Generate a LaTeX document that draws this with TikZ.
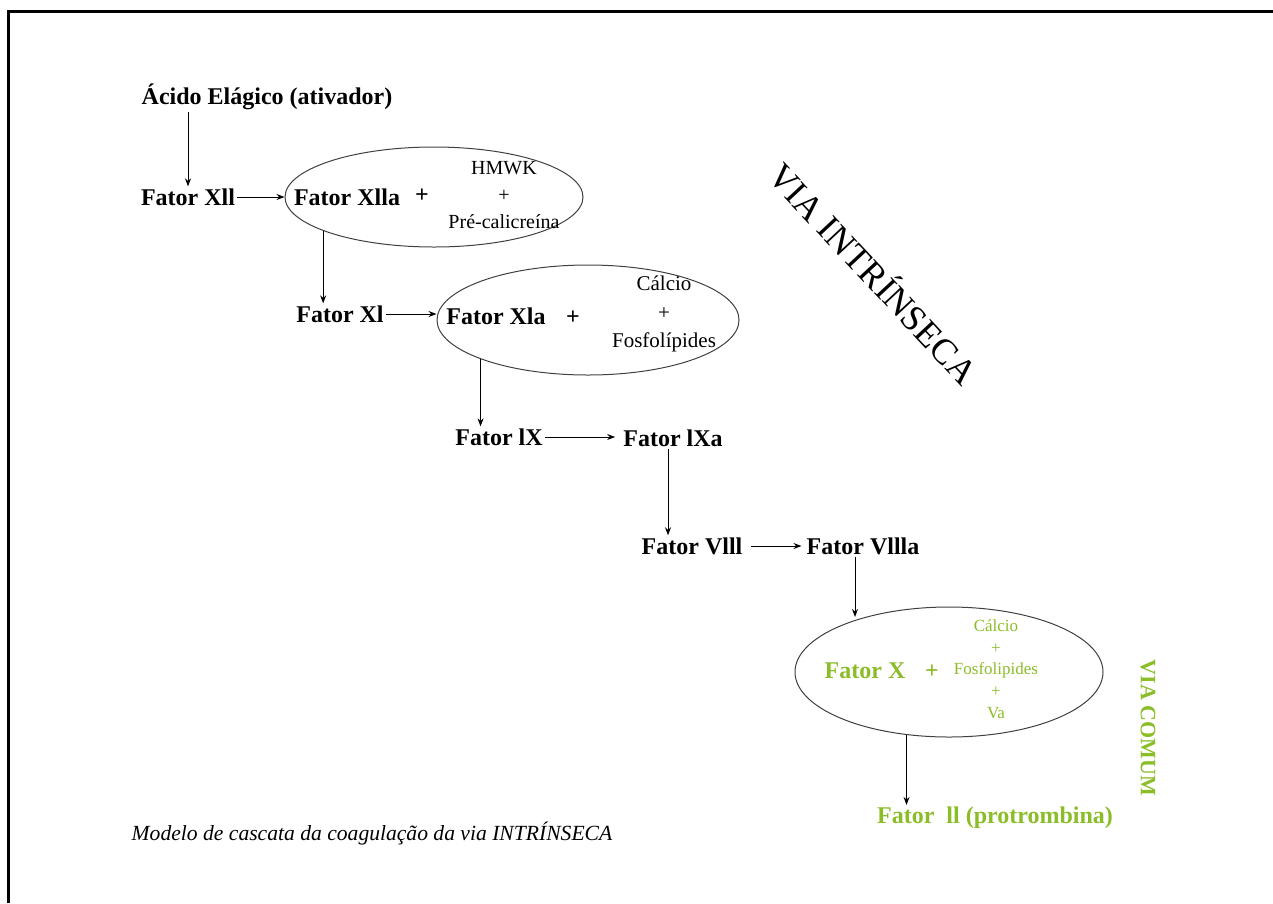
\documentclass[tikz,border=0pt]{standalone}
\usepackage{fontspec}
\setmainfont{Liberation Serif}
\usetikzlibrary{arrows.meta,positioning,shapes.geometric}
\definecolor{comum}{RGB}{139,189,40}

\begin{document}
\begin{tikzpicture}[
  x=1pt, y=-1pt,
  fat/.style={font=\fontsize{24}{28}\selectfont\bfseries, inner sep=2pt},
  cof/.style={align=center, inner sep=1pt},
  oval/.style={ellipse, draw=black!75, line width=1pt, inner sep=0pt},
  arr/.style={-{Stealth[length=8pt, width=6pt]}, line width=1pt}
]
\useasboundingbox (0,0) rectangle (1273,903);
% moldura
\draw[line width=3pt] (8.5,903) -- (8.5,11) -- (1273,11);

% ovais
\node[oval, minimum width=298pt, minimum height=100pt] (e1) at (434,197) {};
\node[oval, minimum width=302pt, minimum height=110pt] (e2) at (588,320) {};
\node[oval, minimum width=308pt, minimum height=130pt] (e3) at (949,672) {};

% fatores
\node[fat] (acido) at (267,97) {Ácido Elágico (ativador)};
\node[fat] (fxii) at (188,197) {Fator Xll};
\node[fat] (fxiia) at (347,197) {Fator Xlla};
\node[fat] at (422,196) {+};
\node[cof, font=\fontsize{20}{27}\selectfont] (c1) at (504,195) {HMWK\\+\\Pré-calicreína};

\node[fat] (fxi) at (340,314) {Fator Xl};
\node[fat] (fxia) at (496,316) {Fator Xla};
\node[fat] at (573,318) {+};
\node[cof, font=\fontsize{21}{28.5}\selectfont] (c2) at (664,314) {Cálcio\\+\\Fosfolípides};

\node[fat] (fix) at (499,437) {Fator lX};
\node[fat] (fixa) at (673,438) {Fator lXa};
\node[fat] (fviii) at (692,546) {Fator Vlll};
\node[fat] (fviiia) at (863,546) {Fator Vllla};

\node[fat, text=comum] (fx) at (865,671) {Fator X};
\node[fat, text=comum] at (932,672) {+};
\node[cof, text=comum, font=\fontsize{17}{21.7}\selectfont] (c3) at (996,669) {Cálcio\\+\\Fosfolipides\\+\\Va};
\node[fat, text=comum] (fii) at (995,818) {Fator \ ll (protrombina)};

% rotulos
\node[rotate=-47, font=\fontsize{36}{40}\selectfont] (vint) at (875,272) {VIA INTRÍNSECA};
\node[rotate=-90, text=comum, font=\fontsize{22}{26}\selectfont\bfseries] (vcom) at (1148,728) {VIA COMUM};
\node[font=\fontsize{21.6}{25}\selectfont\itshape] (leg) at (372,834) {Modelo de cascata da coagulação da via INTRÍNSECA};

% setas
\draw[arr] (fxii |- acido.south) -- (fxii.north);
\draw[arr] (fxii.east) -- (e1.west);
\draw[arr] (e1.197) -- (e1.197 |- fxi.north);
\draw[arr] (fxi.east) -- (fxi.east -| e2.west);
\draw[arr] (e2.200) -- (e2.200 |- fix.north);
\draw[arr] (fix.east) -- ([xshift=-6pt]fix.east -| fixa.west);
\draw[arr] ([xshift=-5pt]fixa.south) -- ([xshift=-5pt]fixa.south |- fviii.north);
\draw[arr] ([xshift=6pt]fviii.east) -- ([xshift=-3pt]fviii.east -| fviiia.west);
\draw[arr] ([xshift=-8pt]fviiia.south) -- ([xshift=-8pt, yshift=3pt]fviiia.south |- e3.151);
\draw[arr] (e3.236) -- (e3.236 |- fii.north);
\end{tikzpicture}
\end{document}
